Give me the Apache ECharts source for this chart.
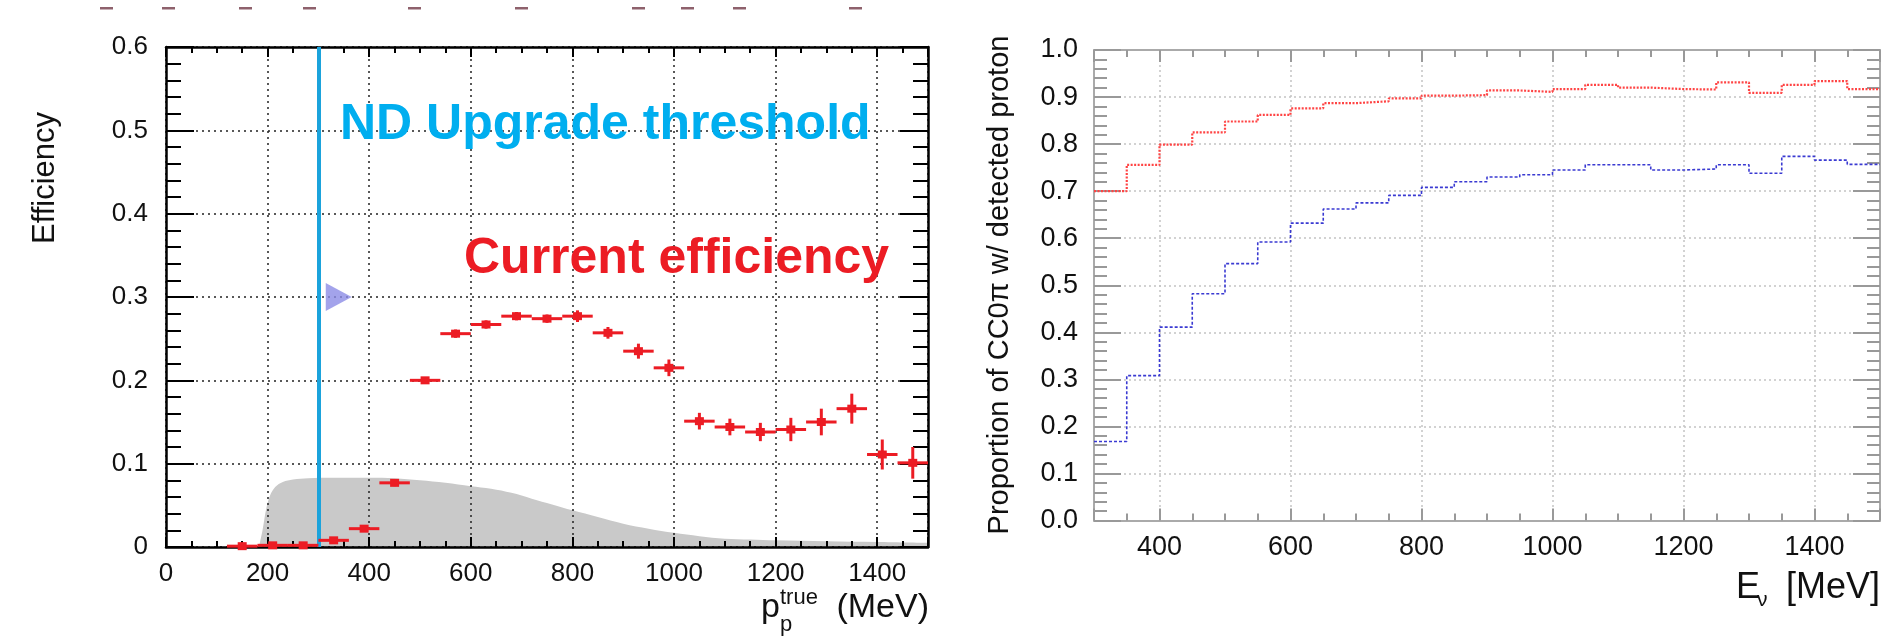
<!DOCTYPE html>
<html>
<head>
<meta charset="utf-8">
<script src="https://cdn.jsdelivr.net/npm/echarts@6/dist/echarts.min.js"></script>
<style>
  html, body { margin: 0; padding: 0; background: #fff; }
  #chart { width: 1889px; height: 643px; }
</style>
</head>
<body>
<div id="chart"></div>
<script>
// ---- Left panel: proton efficiency vs true proton momentum ----
const momentumBinCenters = [150, 210, 270, 330, 390, 450, 510, 570, 630, 690, 750, 810,
                            870, 930, 990, 1050, 1110, 1170, 1230, 1290, 1350, 1410, 1470];
const efficiency = [0.001, 0.002, 0.002, 0.008, 0.022, 0.077, 0.200, 0.256, 0.267, 0.277, 0.274, 0.277,
                    0.257, 0.235, 0.215, 0.151, 0.144, 0.138, 0.141, 0.150, 0.166, 0.111, 0.101];
const efficiencyErr = [0.004, 0.004, 0.003, 0.004, 0.004, 0.004, 0.003, 0.005, 0.005, 0.005, 0.005, 0.007,
                       0.007, 0.009, 0.010, 0.010, 0.010, 0.011, 0.014, 0.016, 0.018, 0.018, 0.019];
const momentumBinHalfWidth = 30;

// grey momentum distribution (arbitrary normalisation)
const spectrumMomentum = [183, 190, 197, 205, 215, 230, 250, 280, 330, 400, 450, 500, 550, 600, 640,
                          680, 720, 760, 800, 850, 900, 950, 1000, 1050, 1100, 1150, 1200, 1300, 1400, 1500];
const spectrumValue = [0, 0.020, 0.045, 0.062, 0.072, 0.078, 0.081, 0.0825, 0.083, 0.083, 0.0825, 0.080, 0.077, 0.073, 0.070,
                       0.065, 0.058, 0.051, 0.044, 0.036, 0.028, 0.022, 0.017, 0.013, 0.010, 0.009, 0.008, 0.007, 0.006, 0.005];

const ndUpgradeThreshold = 300;
const thresholdArrow = [340, 0.3];

const leftXTicks = [0, 200, 400, 600, 800, 1000, 1200, 1400];
const leftYTicks = ['0', '0.1', '0.2', '0.3', '0.4', '0.5', '0.6'];

// ---- Right panel: proportion of CC0pi events with a detected proton ----
const energyBinEdges = [300, 350, 400, 450, 500, 550, 600, 650, 700, 750, 800, 850, 900,
                        950, 1000, 1050, 1100, 1150, 1200, 1250, 1300, 1350, 1400, 1450, 1500];
const proportionRed = [0.700, 0.756, 0.799, 0.825, 0.848, 0.862, 0.876, 0.887, 0.891, 0.897, 0.903, 0.904,
                       0.914, 0.911, 0.917, 0.926, 0.920, 0.917, 0.916, 0.931, 0.909, 0.926, 0.934, 0.917];
const proportionBlue = [0.168, 0.308, 0.411, 0.482, 0.546, 0.592, 0.632, 0.662, 0.675, 0.691, 0.708, 0.720,
                        0.730, 0.735, 0.745, 0.756, 0.756, 0.745, 0.747, 0.756, 0.738, 0.774, 0.766, 0.757];

const rightXTicks = [400, 600, 800, 1000, 1200, 1400];

const FONT = '"Liberation Sans", Arial, Helvetica, sans-serif';
const RED = '#ec1c24';

function histPoints(values) {
  const pts = values.map((v, i) => [energyBinEdges[i], v]);
  pts.push([energyBinEdges[energyBinEdges.length - 1], values[values.length - 1]]);
  return pts;
}

// ---- axis builders ----
function leftX(position, main) {
  return {
    type: 'value', gridIndex: 0, position, min: 0, max: 1500, interval: 200,
    axisLine: { show: true, onZero: false, lineStyle: { color: '#000', width: 2.5 } },
    axisTick: { show: true, inside: true, length: 10, lineStyle: { color: '#000', width: 2 } },
    minorTick: { show: true, splitNumber: 4, length: 6, lineStyle: { color: '#000', width: 2 } },
    splitLine: { show: main, lineStyle: { color: '#222', width: 1.5, type: [2, 4] } },
    axisLabel: main ? {
      show: true, fontFamily: FONT, fontSize: 26, color: '#111', margin: 14,
      formatter: v => leftXTicks.includes(v) ? String(v) : ''
    } : { show: false }
  };
}
function leftY(position, main) {
  return {
    type: 'value', gridIndex: 0, position, min: 0, max: 0.6, interval: 0.1,
    axisLine: { show: true, onZero: false, lineStyle: { color: '#000', width: 2.5 } },
    axisTick: { show: true, inside: true, length: 28, lineStyle: { color: '#000', width: 2 } },
    minorTick: { show: true, splitNumber: 5, length: 15, lineStyle: { color: '#000', width: 2 } },
    splitLine: { show: main, lineStyle: { color: '#222', width: 1.5, type: [2, 4] } },
    axisLabel: main ? {
      show: true, fontFamily: FONT, fontSize: 26, color: '#111', margin: 18,
      formatter: v => leftYTicks[Math.round(v * 10)] || ''
    } : { show: false }
  };
}
function rightX(position, main) {
  return {
    type: 'value', gridIndex: 1, position, min: 300, max: 1500, splitNumber: 6,
    axisLine: { show: true, onZero: false, lineStyle: { color: '#aaa', width: 2 } },
    axisTick: { show: true, inside: true, length: 12, lineStyle: { color: '#999', width: 2 } },
    minorTick: { show: true, splitNumber: 4, length: 7, lineStyle: { color: '#999', width: 2 } },
    splitLine: { show: main, lineStyle: { color: '#c4c4c4', width: 1.5, type: [2, 3] } },
    axisLabel: main ? {
      show: true, fontFamily: FONT, fontSize: 27, color: '#111', margin: 14,
      formatter: v => rightXTicks.includes(v) ? String(v) : ''
    } : { show: false }
  };
}
function rightY(position, main) {
  return {
    type: 'value', gridIndex: 1, position, min: 0, max: 1, interval: 0.1,
    axisLine: { show: true, onZero: false, lineStyle: { color: '#aaa', width: 2 } },
    axisTick: { show: true, inside: true, length: 27, lineStyle: { color: '#999', width: 2 } },
    minorTick: { show: true, splitNumber: 5, length: 13, lineStyle: { color: '#999', width: 2 } },
    splitLine: { show: main, lineStyle: { color: '#c4c4c4', width: 1.5, type: [2, 3] } },
    axisLabel: main ? {
      show: true, fontFamily: FONT, fontSize: 27, color: '#111', margin: 16,
      formatter: v => v.toFixed(1)
    } : { show: false }
  };
}

// faint remnants of a heading above the panels
const headerMarks = [106, 168, 245, 309, 414, 521, 638, 687, 739, 855];

const graphics = [
  // left panel annotations
  { type: 'text', x: 340, y: 125, z: 10, style: { text: 'ND Upgrade threshold', font: 'bold 50px ' + FONT, fill: '#00aeef', align: 'left', verticalAlign: 'middle' } },
  { type: 'text', x: 464, y: 259, z: 10, style: { text: 'Current efficiency', font: 'bold 50px ' + FONT, fill: RED, align: 'left', verticalAlign: 'middle' } },
  // left axis titles
  { type: 'text', x: 45, y: 178, rotation: Math.PI / 2, style: { text: 'Efficiency', font: '31px ' + FONT, fill: '#111', align: 'center', verticalAlign: 'middle' } },
  { type: 'text', x: 761, y: 608, style: { text: 'p', font: '34px ' + FONT, fill: '#111', align: 'left', verticalAlign: 'middle' } },
  { type: 'text', x: 780, y: 598, style: { text: 'true', font: '22px ' + FONT, fill: '#111', align: 'left', verticalAlign: 'middle' } },
  { type: 'text', x: 780, y: 625, style: { text: 'p', font: '22px ' + FONT, fill: '#111', align: 'left', verticalAlign: 'middle' } },
  { type: 'text', x: 929, y: 608, style: { text: '(MeV)', font: '34px ' + FONT, fill: '#111', align: 'right', verticalAlign: 'middle' } },
  // right axis titles
  { type: 'text', x: 1000, y: 285, rotation: Math.PI / 2, style: { text: 'Proportion of CC0\u03c0 w/ detected proton', font: '29px ' + FONT, fill: '#111', align: 'center', verticalAlign: 'middle' } },
  { type: 'text', x: 1736, y: 588, style: { text: 'E', font: '36px ' + FONT, fill: '#111', align: 'left', verticalAlign: 'middle' } },
  { type: 'text', x: 1757, y: 600, style: { text: '\u03bd', font: '21px ' + FONT, fill: '#111', align: 'left', verticalAlign: 'middle' } },
  { type: 'text', x: 1880, y: 588, style: { text: '[MeV]', font: '36px ' + FONT, fill: '#111', align: 'right', verticalAlign: 'middle' } }
].concat(headerMarks.map(x => ({
  type: 'rect', shape: { x: x - 6, y: 7, width: 13, height: 2.5 }, style: { fill: '#7a4552', opacity: 0.85 }
})));

const chart = echarts.init(document.getElementById('chart'), null, { renderer: 'canvas' });
chart.setOption({
  animation: false,
  backgroundColor: '#fff',
  textStyle: { fontFamily: FONT },
  grid: [
    { left: 166, top: 47, width: 762, height: 500 },
    { left: 1094, top: 50, width: 786, height: 470.5 }
  ],
  xAxis: [leftX('bottom', true), leftX('top', false), rightX('bottom', true), rightX('top', false)],
  yAxis: [leftY('left', true), leftY('right', false), rightY('left', true), rightY('right', false)],
  graphic: graphics,
  series: [
    {
      // grey momentum spectrum
      type: 'line', xAxisIndex: 0, yAxisIndex: 0, silent: true, z: -1,
      data: spectrumMomentum.map((x, i) => [x, spectrumValue[i]]),
      smooth: 0.35, showSymbol: false,
      lineStyle: { width: 0 }, areaStyle: { color: '#c9c9c9', opacity: 1 }
    },
    {
      // ND upgrade threshold line
      type: 'line', xAxisIndex: 0, yAxisIndex: 0, silent: true, z: 3,
      data: [], showSymbol: false,
      markLine: {
        silent: true, symbol: ['none', 'none'], label: { show: false },
        lineStyle: { color: '#1ba3dc', width: 4, type: 'solid' },
        data: [{ xAxis: ndUpgradeThreshold }]
      }
    },
    {
      type: 'scatter', xAxisIndex: 0, yAxisIndex: 0, silent: true, z: 4,
      data: [thresholdArrow],
      symbol: 'path://M0,0L10,5L0,10Z', symbolSize: [26, 28],
      itemStyle: { color: '#8c8ce6' }
    },
    {
      // efficiency points with error bars
      type: 'custom', xAxisIndex: 0, yAxisIndex: 0, silent: true, z: 5,
      data: momentumBinCenters.map((x, i) => [x, efficiency[i], efficiencyErr[i]]),
      renderItem: (params, api) => {
        const x = api.value(0), y = api.value(1), e = api.value(2);
        const c = api.coord([x, y]);
        const l = api.coord([x - momentumBinHalfWidth, y]);
        const r = api.coord([x + momentumBinHalfWidth, y]);
        const t = api.coord([x, y + e]);
        const b = api.coord([x, y - e]);
        const st = { stroke: RED, lineWidth: 3 };
        return {
          type: 'group',
          children: [
            { type: 'line', shape: { x1: l[0], y1: l[1], x2: r[0], y2: r[1] }, style: st },
            { type: 'line', shape: { x1: t[0], y1: t[1], x2: b[0], y2: b[1] }, style: st },
            { type: 'rect', shape: { x: c[0] - 4.5, y: c[1] - 4, width: 9, height: 8 }, style: { fill: RED } }
          ]
        };
      }
    },
    {
      type: 'line', xAxisIndex: 2, yAxisIndex: 2, silent: true, z: 3,
      step: 'end', showSymbol: false,
      data: histPoints(proportionRed),
      lineStyle: { color: '#ff4444', width: 2.2, type: [2, 1.5] }
    },
    {
      type: 'line', xAxisIndex: 2, yAxisIndex: 2, silent: true, z: 3,
      step: 'end', showSymbol: false,
      data: histPoints(proportionBlue),
      lineStyle: { color: '#3a3ad2', width: 1.6, type: [3, 2] }
    }
  ]
});
</script>
</body>
</html>
